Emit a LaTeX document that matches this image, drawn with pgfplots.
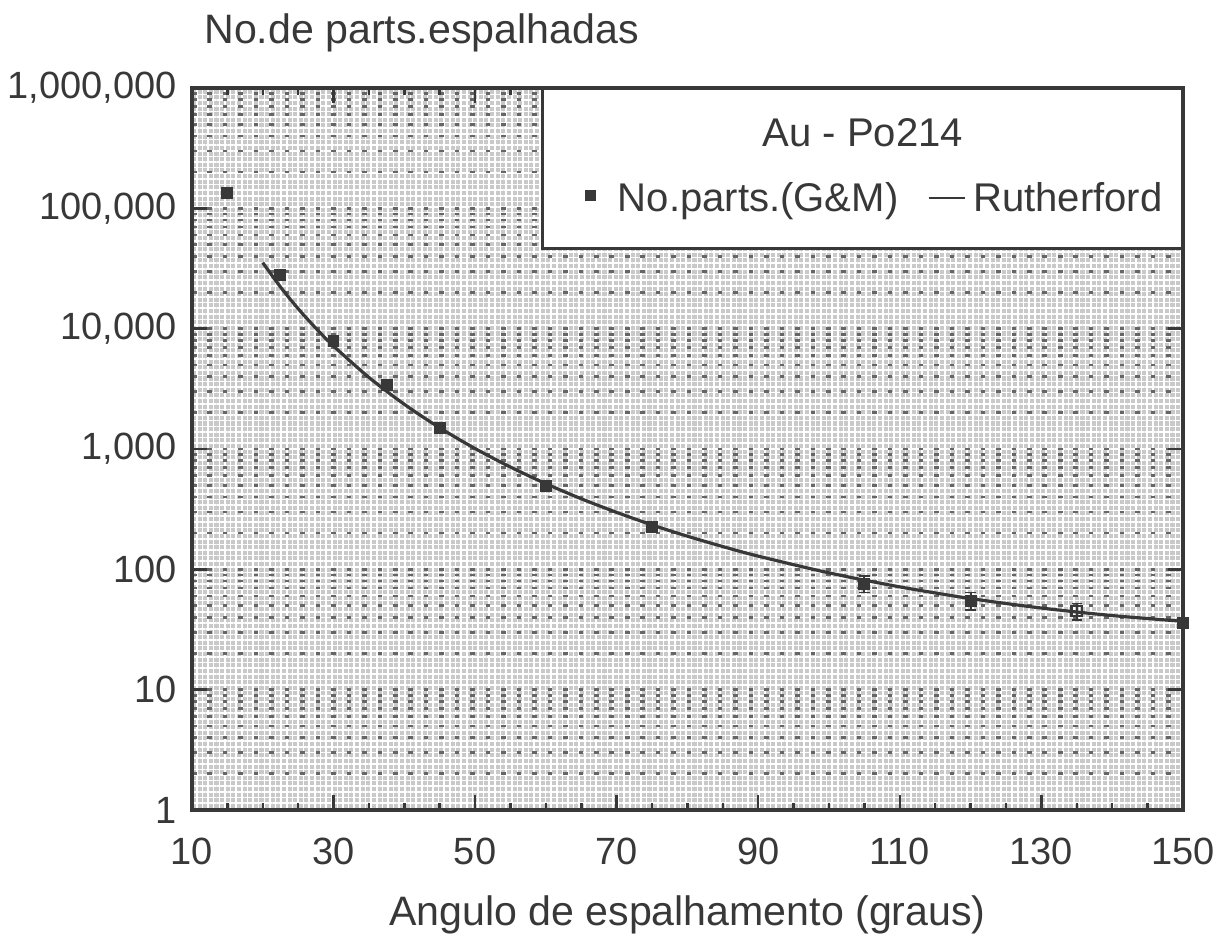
\documentclass[border=0pt]{standalone}
\usepackage{fontspec}
\setmainfont{Liberation Sans}
\usepackage{pgfplots}
\pgfplotsset{compat=1.18}
\usetikzlibrary{patterns.meta}

\definecolor{ink}{gray}{0.22}
\definecolor{paper}{gray}{0.79}

\begin{document}
\begin{tikzpicture}
\begin{axis}[
    scale only axis,
    width=9.91cm,
    height=7.22cm,
    xmin=10, xmax=150,
    ymode=log,
    ymin=1, ymax=1000000,
    xtick={10,30,...,150},
    minor x tick num=3,
    ytick={1,10,100,1000,10000,100000,1000000},
    yticklabels={1,10,100,{1,000},{10,000},{100,000},{1,000,000}},
    tick align=inside,
    major tick length=0.15cm,
    minor tick length=0.07cm,
    minor y tick style={draw=none},
    tick style={ink, line width=0.7pt},
    /pgf/number format/assume math mode=true,
    ticklabel style={font=\fontsize{10.8}{12}\selectfont, text=ink},
    xticklabel style={yshift=-0.16cm},
    yticklabel style={xshift=-0.03cm},
    axis line style={ink, line width=0.9pt},
    axis background/.style={fill=paper,
        postaction={pattern={Lines[angle=0,distance=1.6pt,line width=0.45pt]}, pattern color=white},
        postaction={pattern={Lines[angle=90,distance=1.6pt,line width=0.45pt]}, pattern color=white}},
    ymajorgrids, yminorgrids,
    major grid style={black!60, line width=0.75pt, dash pattern=on 1.3pt off 3.1pt},
    minor grid style={black!60, line width=0.75pt, dash pattern=on 1.3pt off 3.1pt},
    xlabel={Angulo de espalhamento (graus)},
    ylabel={No.de parts.espalhadas},
    every axis x label/.style={at={(rel axis cs:0.5,0)}, anchor=base, yshift=-1.15cm,
        font=\fontsize{11.7}{14}\selectfont, text=ink},
    every axis y label/.style={at={(rel axis cs:0,1)}, anchor=base west, yshift=0.45cm,
        font=\fontsize{11.7}{14}\selectfont, text=ink},
    legend columns=2,
    legend style={draw=none, fill=none, at={(rel axis cs:0.6895,0.845)}, anchor=center,
        font=\fontsize{11.4}{14}\selectfont, text=ink,
        /tikz/every even column/.append style={column sep=0.22cm}},
    clip=false,
]

% Geiger & Marsden counts
\addplot[only marks, mark=square*, mark size=1.5pt, color=ink,
    legend image code/.code={\fill[ink] (0.05cm,0.0cm) rectangle (0.14cm,0.09cm);
        \path[draw=none, fill=none] (0cm,0cm) rectangle (0.3cm,0.01cm);},
    error bars/.cd, y dir=both, y explicit,
    error bar style={ink, line width=0.6pt}, error mark options={rotate=90, mark size=1.5pt, ink}]
coordinates {
    (15,135000) (22.5,28000) (30,7900) (37.5,3400) (45,1500) (60,495)
    (75,225) (105,76) +- (0,12) (120,55) +- (0,9) (150,36)
};
\addlegendentry{No.parts.(G\&M)}

% Rutherford
\addplot[ink, line width=0.9pt, smooth,
    legend image code/.code={\draw[ink, line width=0.8pt] (0cm,0.02cm) -- (0.36cm,0.02cm);}]
coordinates {
    (20,35400) (22.5,22230) (25,14670) (27.5,10090) (30,7176) (35,3938)
    (40,2353) (45,1501) (50,1009) (55,708) (60,515) (65,386) (70,297.5)
    (75,234) (80,188.6) (85,154.6) (90,128.8) (100,93.5) (110,71.5)
    (120,57.2) (130,47.7) (140,41.3) (150,37.0)
};
\addlegendentry{Rutherford}

% hollow point at 135
\addplot[forget plot, only marks, mark=square, mark size=1.5pt, color=ink,
    mark options={fill=paper, line width=0.6pt},
    error bars/.cd, y dir=both, y explicit,
    error bar style={ink, line width=0.6pt}, error mark options={rotate=90, mark size=1.5pt, ink}]
coordinates {(135,45) +- (0,7)};

\draw[ink, line width=0.9pt, fill=white] (rel axis cs:0.354,1) rectangle (rel axis cs:1,0.778);
\node[font=\fontsize{11.4}{14}\selectfont, text=ink] at (rel axis cs:0.677,0.9377) {Au - Po214};

\coordinate (bbsw) at (rel axis cs:-0.1937,-0.1773);
\coordinate (bbne) at (rel axis cs:1.0384,1.1219);
\end{axis}
\pgfresetboundingbox
\path[use as bounding box] (bbsw) rectangle (bbne);
\end{tikzpicture}
\end{document}
